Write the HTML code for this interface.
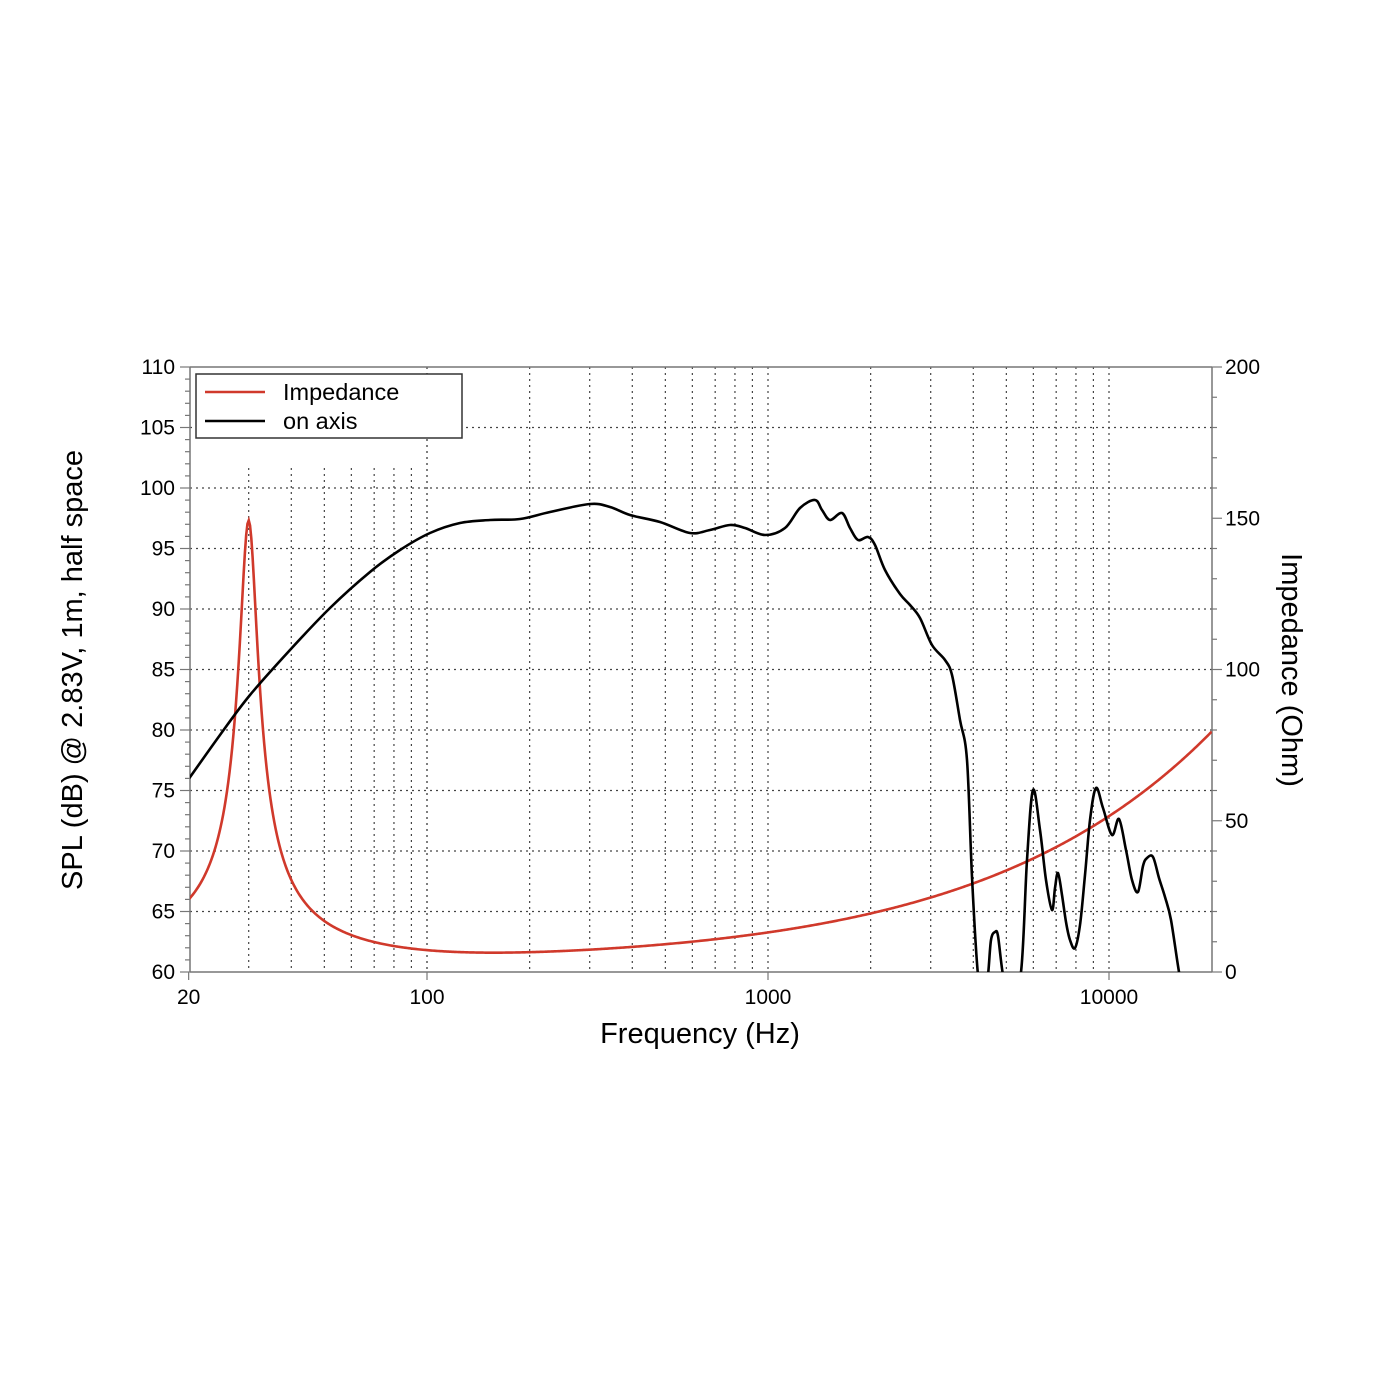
<!DOCTYPE html>
<html><head><meta charset="utf-8"><style>
html,body{margin:0;padding:0;background:#fff;}
svg{display:block;font-family:"Liberation Sans",Arial,sans-serif;}
</style></head><body>
<svg id="s" width="1400" height="1400" viewBox="0 0 1400 1400" xmlns="http://www.w3.org/2000/svg">
<defs><clipPath id="c"><rect x="190" y="367" width="1022" height="605"/></clipPath></defs>
<g id="grid"></g>
<g id="axes"></g>
<g clip-path="url(#c)">
<path id="imp" fill="none" stroke="#d0392b" stroke-width="2.6"/>
<path id="spl" fill="none" stroke="#000" stroke-width="2.6"/>
</g>
<rect x="196" y="374" width="266" height="64" fill="#fff" stroke="#333" stroke-width="1.5"/>
<line x1="205" y1="392" x2="265" y2="392" stroke="#d0392b" stroke-width="2.6"/>
<line x1="205" y1="421" x2="265" y2="421" stroke="#000" stroke-width="2.6"/>
<text x="283" y="400" font-size="23.5">Impedance</text>
<text x="283" y="429" font-size="23.5">on axis</text>
<text x="700" y="1043" font-size="29" text-anchor="middle">Frequency (Hz)</text>
<text transform="translate(82,670) rotate(-90)" font-size="29" text-anchor="middle">SPL (dB) @ 2.83V, 1m, half space</text>
<text transform="translate(1282,670) rotate(90)" font-size="29" text-anchor="middle">Impedance (Ohm)</text>
</svg>
<script>
var NS="http://www.w3.org/2000/svg";
function el(p,t,a,txt){var e=document.createElementNS(NS,t);for(var k in a)e.setAttribute(k,a[k]);if(txt!==undefined)e.textContent=txt;p.appendChild(e);return e;}
var L=190,R=1212,T=367,B=972;
function fx(f){return 427+341*(Math.log10(f)-2);}
var g=document.getElementById('grid'),ax=document.getElementById('axes');
for(var d=65;d<=105;d+=5){var y=B-(d-60)*12.1;el(g,'line',{x1:L,x2:R,y1:y,y2:y,stroke:'#444','stroke-width':1.2,'stroke-dasharray':'2 4'});}
[20,100,1000,10000].forEach(function(dec){
 for(var m=1;m<=9;m++){var f=dec*m; if(dec==20){f=10*m; if(m<3)continue;}
  if(f<=20||f>=20000)continue; var x=fx(f); var y0=(f<100)?468:T;
  if(dec==20&&f>=100)continue;
  el(g,'line',{x1:x,x2:x,y1:y0,y2:B,stroke:'#444','stroke-width':1.2,'stroke-dasharray':'2 4'});}
});
el(g,'line',{x1:fx(100),x2:fx(100),y1:T,y2:B,stroke:'#444','stroke-width':1.2,'stroke-dasharray':'2 4'});
el(ax,'line',{x1:L,x2:R,y1:T,y2:T,stroke:'#777','stroke-width':1.5});
el(ax,'line',{x1:L,x2:R,y1:B,y2:B,stroke:'#777','stroke-width':1.5});
el(ax,'line',{x1:L,x2:L,y1:T,y2:B,stroke:'#777','stroke-width':1.5});
el(ax,'line',{x1:R,x2:R,y1:T,y2:B,stroke:'#777','stroke-width':1.5});
for(var d=60;d<=110;d++){var y=B-(d-60)*12.1;var big=d%5==0;el(ax,'line',{x1:L-(big?10:5),x2:L,y1:y,y2:y,stroke:'#777','stroke-width':1.2});
 if(big)el(ax,'text',{x:175,y:y+7,'font-size':21,'text-anchor':'end'},d);}
for(var o=0;o<=200;o+=10){var y=B-o*3.025;var big=o%50==0;el(ax,'line',{x1:R,x2:R+(big?10:5),y1:y,y2:y,stroke:'#777','stroke-width':1.2});
 if(big)el(ax,'text',{x:1225,y:y+7,'font-size':21},o);}
[20,100,1000,10000].forEach(function(f){var x=fx(f);el(ax,'line',{x1:x,x2:x,y1:B,y2:B+8,stroke:'#777','stroke-width':1.2});
 el(ax,'text',{x:x,y:1004,'font-size':21,'text-anchor':'middle'},f);});
var d="";for(var i=0;i<=800;i++){var f=20*Math.pow(1000,i/800);
 var X=0.1546*Math.pow(f,0.63);var r=f/30-30/f;var Q=8,Rm=143;var den=1+Q*Q*r*r;
 var re=6.3+Rm/den, im=X-Rm*Q*r/den;var z=Math.sqrt(re*re+im*im);
 d+=(i?"L":"M")+fx(f).toFixed(2)+","+(B-z*3.025).toFixed(2);}
document.getElementById('imp').setAttribute('d',d);
var P=[[188,780],[220,735],[250,695],[290,650],[330,608],[370,572],[400,550],[430,533],[460,523],[490,520],[520,519],[550,512],[590,504],[610,507],[630,515],[660,522],[690,533],[710,530],[730,525],[745,528],[765,535],[785,528],[800,508],[815,500],[822,510],[830,520],[842,513],[850,528],[858,540],[868,537],[875,545],[885,570],[900,594],[910,605],[920,618],[932,645],[945,660],[952,675],[960,720],[967,760],[972,877],[978,975],[984,1000],[988,975],[991,940],[995,932],[998,936],[1003,975],[1010,1000],[1021,972],[1027,860],[1033,790],[1040,830],[1046,880],[1052,910],[1055,888],[1058,873],[1062,895],[1066,922],[1070,940],[1075,948],[1080,925],[1085,875],[1090,820],[1096,788],[1103,808],[1112,835],[1119,819],[1126,850],[1132,880],[1138,892],[1143,866],[1147,858],[1153,857],[1159,878],[1165,897],[1171,920],[1179,972],[1185,1000]];
function cr(p){var s="M"+p[0][0]+","+p[0][1];for(var i=0;i<p.length-1;i++){var p0=p[i?i-1:0],p1=p[i],p2=p[i+1],p3=p[i+2<p.length?i+2:i+1];
 s+="C"+(p1[0]+(p2[0]-p0[0])/6).toFixed(1)+","+(p1[1]+(p2[1]-p0[1])/6).toFixed(1)+" "+(p2[0]-(p3[0]-p1[0])/6).toFixed(1)+","+(p2[1]-(p3[1]-p1[1])/6).toFixed(1)+" "+p2[0]+","+p2[1];}return s;}
document.getElementById('spl').setAttribute('d',cr(P));
</script>
</body></html>
